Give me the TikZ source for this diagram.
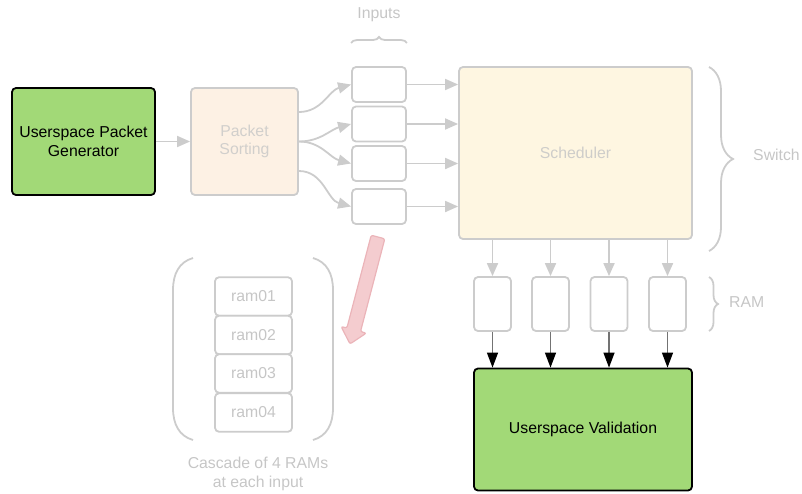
\documentclass[tikz,border=0pt]{standalone}
\usepackage{fontspec}
\setmainfont{Liberation Sans}
\usetikzlibrary{arrows.meta,decorations.pathreplacing,calc}
\definecolor{lineGray}{HTML}{CCCCCC}
\definecolor{textGray}{HTML}{C6C6C6}
\definecolor{boxGreen}{HTML}{A2D977}
\definecolor{sortFill}{HTML}{FDF1E4}
\definecolor{schedFill}{HTML}{FEF6E1}
\definecolor{pinkFill}{HTML}{F4CCCF}
\definecolor{pinkLine}{HTML}{EBB4B9}
\tikzset{
  every node/.style={font=\fontsize{15.8}{18.5}\selectfont, align=center, inner sep=0pt},
  greenbox/.style={draw=black, line width=1.8pt, fill=boxGreen, rounded corners=4pt},
  fadedbox/.style={draw=lineGray, line width=1.8pt, rounded corners=4pt, text=textGray},
  graylink/.style={draw=lineGray, line width=1.8pt, -{Triangle[length=13pt,width=11pt]}},
  blacklink/.style={draw=black!55, line width=1.3pt, -{Triangle[length=15pt,width=11pt,color=black]}},
  graybrace/.style={draw=lineGray, line width=1.8pt, decorate},
  label/.style={text=textGray},
}
\begin{document}
\begin{tikzpicture}[x=1pt, y=-1pt]
\useasboundingbox (0,0) rectangle (802,493);

% main blocks
\node[greenbox, minimum width=143pt, minimum height=107pt] (gen) at (83.5,141.5) {Userspace Packet\\Generator};
\node[fadedbox, fill=sortFill, minimum width=107pt, minimum height=107pt, text=textGray!80!sortFill] (sort) at (244.5,141.5) {Packet\\Sorting};
\node[fadedbox, fill=schedFill, minimum width=233pt, minimum height=172pt, text=textGray!85!schedFill] (sched) at (575.5,153) {Scheduler};
\node[greenbox, minimum width=218pt, minimum height=122pt] (val) at (583,429.5) {Userspace Validation};

% input buffers
\foreach \i/\y in {1/84.5, 2/124, 3/163.5, 4/206.5}
  \node[fadedbox, fill=white, minimum width=54pt, minimum height=35pt] (in\i) at (379,\y) {};

% output RAMs
\foreach \i/\x in {1/492.5, 2/550.5, 3/609, 4/667.5}
  \node[fadedbox, fill=white, minimum width=37pt, minimum height=54pt] (ram\i) at (\x,304) {};

% cascade of RAMs
\foreach \i/\y in {1/296.5, 2/335, 3/373.5, 4/412.5}
  \node[fadedbox, fill=white, minimum width=77pt, minimum height=38.5pt] (casc\i) at (253.5,\y) {ram0\i};

% labels
\node[label] (inLbl) at (379,15) {Inputs};
\node[label, anchor=west] (swLbl) at (753,155) {Switch};
\node[label, anchor=west] (ramLbl) at (729,302) {RAM};
\node[label] (cascLbl) at (258,474) {Cascade of 4 RAMs\\at each input};

% braces
\draw[graybrace, decoration={brace, amplitude=6pt}] (in1.north west |- 0,43) -- (in1.north east |- 0,43);
\draw[graybrace, decoration={brace, amplitude=24pt}] (709,67) -- (709,251);
\draw[graybrace, decoration={brace, amplitude=9pt}] (709,277) -- (709,331);

% parentheses round the cascade
\draw[lineGray, line width=1.8pt] (193,258) .. controls (179,262) and (173,274) .. (173,290) -- (173,408) .. controls (173,424) and (179,436) .. (193,440);
\draw[lineGray, line width=1.8pt] (313,258) .. controls (327,262) and (333,274) .. (333,290) -- (333,408) .. controls (333,424) and (327,436) .. (313,440);

% flows
\draw[graylink] (gen.east) -- (sort.west);
\coordinate (s1) at ($(sort.east)+(0,-29.5)$);
\coordinate (s2) at (sort.east);
\coordinate (s3) at ($(sort.east)+(0,29.5)$);
\draw[graylink] (s1) to[out=0, in=195] (in1.west);
\draw[graylink] (s2) to[out=0, in=195] (in2.west);
\draw[graylink] (s2) to[out=0, in=165] (in3.west);
\draw[graylink] (s3) to[out=0, in=165] (in4.west);
\foreach \i in {1,...,4}
  \draw[graylink] (in\i.east) -- (in\i.east -| sched.west);
\foreach \i in {1,...,4}
  \draw[graylink] (sched.south -| ram\i) -- (ram\i.north);
\foreach \i in {1,...,4}
  \draw[blacklink] (ram\i.south) -- (val.north -| ram\i);

% pink pointer from an input to its RAM cascade
\draw[pinkLine, fill=pinkFill, line width=1.2pt, rounded corners=2pt]
  (371.2,235.2) -- (384.8,238.8) -- (360.5,331.6) -- (366.3,333.1) -- (350,344)
  -- (341.1,326.5) -- (346.9,328.0) -- cycle;
\end{tikzpicture}
\end{document}
